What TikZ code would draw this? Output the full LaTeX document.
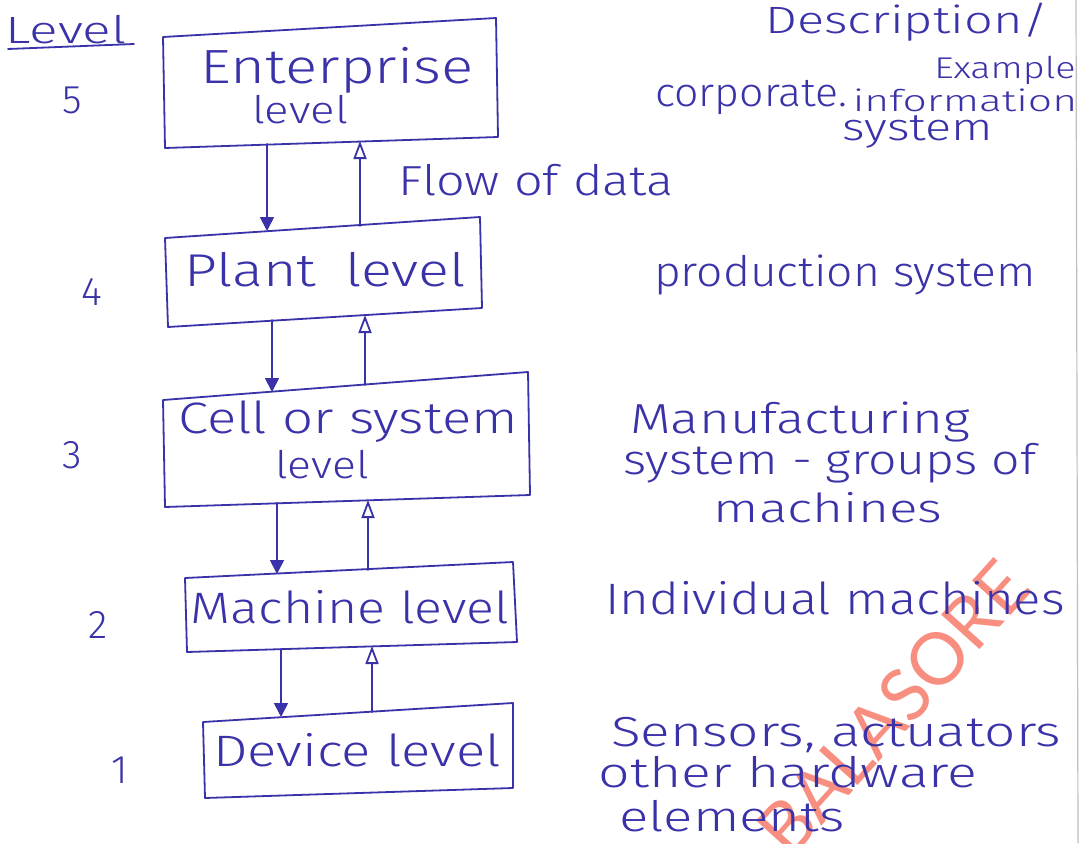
\documentclass[tikz,border=0pt]{standalone}
\usepackage{fontspec}
\IfFontExistsTF{Fira Sans Light}{\setmainfont{Fira Sans Light}}{\setmainfont{Lato}}
\newfontfamily\stampfont{Lato}
\usetikzlibrary{arrows.meta,calc}
\definecolor{ink}{RGB}{58,50,168}
\definecolor{stamp}{RGB}{245,95,75}

\begin{document}
\begin{tikzpicture}[x=1pt,y=-1pt,
  pen/.style={draw=ink, line width=1.8pt, line join=round, line cap=round},
  hand/.style 2 args={text=ink, inner sep=0pt, font=\fontsize{#1}{#1}\selectfont, xscale=#2},
  downarrow/.style={pen, -{Triangle[length=14pt,width=14pt]}},
  uparrow/.style={pen, -{Triangle[open,length=18pt,width=13pt,line width=1.8pt]}}]

\useasboundingbox (0,0) rectangle (1086,843);
\fill[white] (0,0) rectangle (1086,843);

% stamp running across the lower right
\node[text=stamp, opacity=0.7, rotate=48, font=\stampfont\fontsize{72}{72}\selectfont]
  (stampmark) at (893,708) {BALASORE};

% edge of the sheet
\draw[black!25, line width=1.2pt] (1076,0) -- (1078,843);

% ---- level column ----
\node[hand={38}{1.4}] (lvl) at (66,30) {Level};
\draw[pen] (8,49) -- (134,44);
\node[hand={40}{1}] (n5) at (72,100) {5};
\node[hand={40}{1}] (n4) at (92,292) {4};
\node[hand={40}{1}] (n3) at (72,455) {3};
\node[hand={40}{1}] (n2) at (98,625) {2};
\node[hand={40}{1}] (n1) at (120,770) {1};

% ---- box corners ----
\coordinate (E-tl) at (163,37);  \coordinate (E-tr) at (496,18);
\coordinate (E-br) at (498,137); \coordinate (E-bl) at (165,148);
\coordinate (P-tl) at (165,238); \coordinate (P-tr) at (480,217);
\coordinate (P-br) at (482,308); \coordinate (P-bl) at (168,327);
\coordinate (C-tl) at (163,400); \coordinate (C-tr) at (528,372);
\coordinate (C-br) at (530,495); \coordinate (C-bl) at (165,507);
\coordinate (M-tl) at (185,578); \coordinate (M-tr) at (513,562);
\coordinate (M-br) at (517,642); \coordinate (M-bl) at (187,652);
\coordinate (D-tl) at (203,722); \coordinate (D-tr) at (513,703);
\coordinate (D-br) at (513,788); \coordinate (D-bl) at (205,798);

\foreach \b in {E,P,C,M,D}
  \draw[pen] (\b-tl) -- (\b-tr) -- (\b-br) -- (\b-bl) -- cycle;

% ---- box texts ----
\node[hand={48}{1.25}] (ent1) at (337,70) {Enterprise};
\node[hand={38}{1.2}] (ent2) at (300,110) {level};
\node[hand={46}{1.25}] (plant) at (325,270) {Plant\hspace{0.5em}level};
\node[hand={44}{1.24}] (cell1) at (348,422) {Cell or system};
\node[hand={38}{1.17}] (cell2) at (322,465) {level};
\node[hand={44}{1.18}] (mach) at (350,607) {Machine level};
\node[hand={44}{1.24}] (dev) at (357,750) {Device level};

% ---- connector end points on the box edges ----
\coordinate (ed) at (267,144); \coordinate (pu) at (267,231);
\coordinate (eu) at (360,141); \coordinate (pd) at (360,226);
\coordinate (pb1) at (272,320); \coordinate (ct1) at (272,392);
\coordinate (pb2) at (365,315); \coordinate (ct2) at (365,385);
\coordinate (cb1) at (277,503); \coordinate (mt1) at (277,574);
\coordinate (cb2) at (368,500); \coordinate (mt2) at (368,570);
\coordinate (mb1) at (281,649); \coordinate (dt1) at (281,717);
\coordinate (mb2) at (372,646); \coordinate (dt2) at (372,712);

\draw[downarrow] (ed) -- (pu);
\draw[uparrow]   (pd) -- (eu);
\draw[downarrow] (pb1) -- (ct1);
\draw[uparrow]   (ct2) -- (pb2);
\draw[downarrow] (cb1) -- (mt1);
\draw[uparrow]   (mt2) -- (cb2);
\draw[downarrow] (mb1) -- (dt1);
\draw[uparrow]   (dt2) -- (mb2);

\node[hand={42}{1.2}] (flow) at (536,180) {Flow of data};

% ---- description column ----
\node[hand={38}{1.33}] (desc) at (907,22) {Description/};
\node[hand={30}{1.26}] (exam) at (1005,70) {Example};
\node[hand={40}{1.07}] (corp) at (751,97) {corporate.};
\node[hand={30}{1.42}] (info) at (965,100) {information};
\node[hand={38}{1.28}] (csys) at (918,132) {system};
\node[hand={42}{1.1}] (prod) at (845,275) {production system};
\node[hand={42}{1.26}] (man1) at (800,422) {Manufacturing};
\node[hand={42}{1.19}] (man2) at (830,463) {system - groups of};
\node[hand={40}{1.33}] (man3) at (828,508) {machines};
\node[hand={44}{1.16}] (indiv) at (835,598) {Individual machines};
\node[hand={42}{1.31}] (sen1) at (836,735) {Sensors, actuators};
\node[hand={42}{1.32}] (sen2) at (788,772) {other hardware};
\node[hand={42}{1.3}] (sen3) at (732,816) {elements};
\end{tikzpicture}
\end{document}
